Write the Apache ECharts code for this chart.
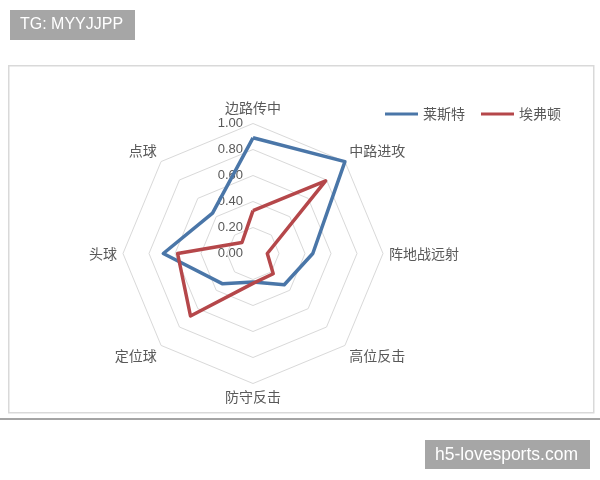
<!DOCTYPE html>
<html>
<head>
<meta charset="utf-8">
<script src="https://cdn.jsdelivr.net/npm/echarts@6/dist/echarts.min.js"></script>
<style>
html,body{margin:0;padding:0;background:#fff;}
#chart{width:600px;height:480px;}
</style>
</head>
<body>
<div id="chart"></div>
<script>
// Categories in clockwise order starting from the top
var categories = ['边路传中', '中路进攻', '阵地战远射', '高位反击', '防守反击', '定位球', '头球', '点球'];
var seriesNames = ['莱斯特', '埃弗顿'];
var leicester = [0.89, 1.00, 0.46, 0.34, 0.22, 0.33, 0.69, 0.44];
var everton   = [0.33, 0.79, 0.11, 0.22, 0.23, 0.68, 0.58, 0.12];
var axisMin = 0, axisMax = 1, splitNum = 5;

// ECharts lays radar indicators counter-clockwise; reorder so they appear clockwise
var order = [0];
for (var i = categories.length - 1; i >= 1; i--) order.push(i);
function reorder(arr) { return order.map(function (k) { return arr[k]; }); }

var labelColor = '#595959';
var cjkFont = 'Noto Sans CJK SC';
var indicators = reorder(categories).map(function (name, idx) {
  var ind = { name: name, min: axisMin, max: axisMax };
  if (idx === 0) {
    ind.axisLabel = {
      show: true, color: labelColor, fontSize: 13, margin: 10,
      fontFamily: 'Liberation Sans',
      formatter: function (v) { return Number(v).toFixed(2); }
    };
  }
  return ind;
});
// name nudges (diagonal names sit a little further out vertically)
var topNames = [categories[0]];
var upNames = [categories[1], categories[7]];
var downNames = [categories[3], categories[5]];

var chart = echarts.init(document.getElementById('chart'));
chart.setOption({
  animation: false,
  backgroundColor: '#fff',
  graphic: [
    { type: 'rect', left: 8, top: 65, shape: { width: 585, height: 347 }, style: { fill: '#fff', stroke: '#d9d9d9', lineWidth: 1.5 }, z: -10 },
    { type: 'line', shape: { x1: 0, y1: 419, x2: 600, y2: 419 }, style: { stroke: '#4a4a4a', lineWidth: 1 } },
    { type: 'rect', shape: { x: 10, y: 10, width: 125, height: 30 }, style: { fill: '#a6a6a6' } },
    { type: 'text', x: 20, y: 25, style: { text: 'TG: MYYJJPP', fill: '#fff', fontSize: 16, fontFamily: 'Liberation Sans', verticalAlign: 'middle' } },
    { type: 'rect', shape: { x: 425, y: 440, width: 165, height: 29 }, style: { fill: '#a6a6a6' } },
    { type: 'text', x: 435, y: 455, style: { text: 'h5-lovesports.com', fill: '#fff', fontSize: 17.5, fontFamily: 'Liberation Sans', verticalAlign: 'middle' } }
  ],
  legend: {
    data: seriesNames,
    left: 385, top: 107, padding: 0,
    icon: 'rect', itemWidth: 33, itemHeight: 3, itemGap: 16,
    textStyle: { color: labelColor, fontSize: 14, fontFamily: cjkFont }
  },
  radar: {
    center: [253, 253.5],
    radius: 130,
    startAngle: 90,
    splitNumber: splitNum,
    shape: 'polygon',
    indicator: indicators,
    axisName: {
      color: labelColor, fontSize: 14, fontFamily: cjkFont,
      formatter: function (name) {
        if (topNames.indexOf(name) >= 0) return '{top|' + name + '}';
        if (upNames.indexOf(name) >= 0) return '{up|' + name + '}';
        if (downNames.indexOf(name) >= 0) return '{down|' + name + '}';
        return name;
      },
      rich: {
        top: { color: labelColor, fontSize: 14, fontFamily: cjkFont, padding: [0, 0, 3, 0] },
        up: { color: labelColor, fontSize: 14, fontFamily: cjkFont, padding: [0, 0, 13, 0] },
        down: { color: labelColor, fontSize: 14, fontFamily: cjkFont, padding: [13, 0, 0, 0] }
      }
    },
    nameGap: 6,
    axisLine: { show: false },
    axisTick: { show: false },
    axisLabel: { show: false },
    splitArea: { show: false },
    splitLine: { lineStyle: { color: '#d9d9d9', width: 1 } }
  },
  series: [{
    type: 'radar',
    symbol: 'none',
    data: [
      { name: seriesNames[0], value: reorder(leicester), lineStyle: { color: '#4a76a8', width: 3.5 }, itemStyle: { color: '#4a76a8' } },
      { name: seriesNames[1], value: reorder(everton), lineStyle: { color: '#b5474a', width: 3.5 }, itemStyle: { color: '#b5474a' } }
    ]
  }]
});
</script>
</body>
</html>
